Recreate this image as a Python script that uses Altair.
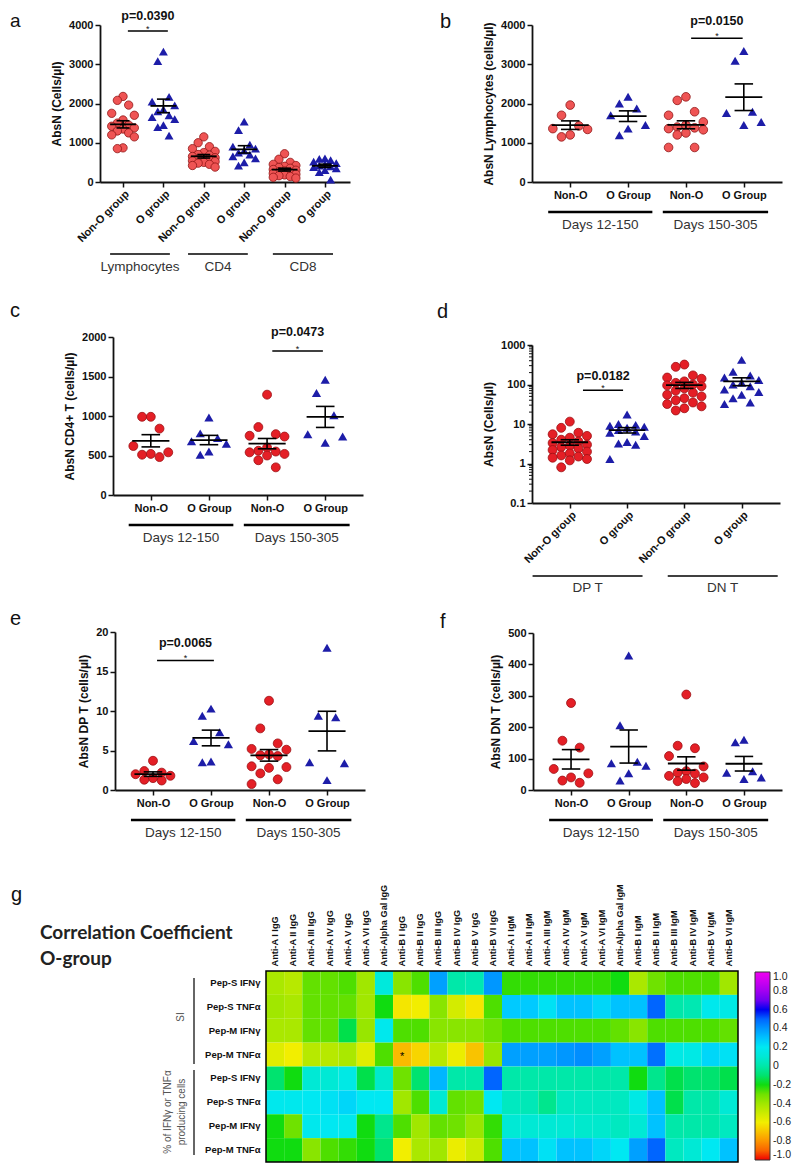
import altair as alt
import pandas as pd

FONT = "Liberation Sans, Arial, Helvetica, sans-serif"
NARROW = "Liberation Sans Narrow, Liberation Sans, Arial, sans-serif"
TFONT = "Lato, Open Sans, sans-serif"

RED_A = "#ef5454"
RED_A_EDGE = "#8f1616"
RED = "#e41f26"
RED_EDGE = "#9c1014"
BLUE = "#1d1da8"

W, H = 784, 1156

# ---------------- panel a ----------------
a_labels = ["Non-O group", "O group", "Non-O group", "O group", "Non-O group", "O group"]
a_groups = ["Lymphocytes", "CD4", "CD8"]
a_lymph_nonO = [2180, 2080, 1960, 1750, 1700, 1580, 1500, 1450, 1420, 1380, 1350, 1300, 1250, 1200, 1150, 870, 850]
a_lymph_O = [3320, 3080, 2170, 2050, 1950, 1850, 1800, 1700, 1650, 1600, 1450, 1400, 1180]
a_cd4_nonO = [1150, 1000, 900, 850, 780, 750, 700, 680, 650, 620, 600, 580, 560, 540, 520, 500, 480, 450, 420, 380]
a_cd4_O = [1540, 1320, 950, 900, 850, 800, 750, 700, 650, 600, 500, 420]
a_cd8_nonO = [720, 580, 500, 450, 420, 400, 370, 350, 320, 300, 280, 260, 240, 220, 200, 180, 160, 140, 120, 100]
a_cd8_O = [600, 590, 560, 520, 480, 450, 420, 400, 380, 350, 300, 250, 60]
a_p = "p=0.0390"

# ---------------- panels b, c, e, f ----------------
day_labels = ["Non-O", "O Group", "Non-O", "O Group"]
day_groups = ["Days 12-150", "Days 150-305"]

b_early_nonO = [1960, 1700, 1430, 1360, 1340, 1200, 1150]
b_early_O = [2170, 2000, 1870, 1700, 1450, 1360, 1190]
b_late_nonO = [2170, 2080, 1790, 1700, 1530, 1450, 1400, 1380, 1360, 1330, 1250, 1200, 880, 880]
b_late_O = [3340, 3090, 1790, 1760, 1530, 1450]
b_p = "p=0.0150"

c_early_nonO = [990, 990, 840, 620, 540, 520, 510, 480]
c_early_O = [980, 780, 720, 680, 650, 550, 510]
c_late_nonO = [1270, 860, 770, 750, 740, 600, 560, 550, 540, 520, 500, 440, 350]
c_late_O = [1460, 1290, 1010, 770, 740, 660]
c_p = "p=0.0473"

# ---------------- panel d (log) ----------------
d_labels = ["Non-O group", "O group", "Non-O group", "O group"]
d_groups = ["DP T", "DN T"]
d_dp_nonO = [11.5, 8, 6, 5.5, 5, 4.5, 4, 3.6, 3.3, 3, 2.8, 2.6, 2.4, 2.2, 2.0, 1.8, 1.6, 1.5, 1.4, 1.3, 1.2, 0.8]
d_dp_O = [17.5, 10, 9.5, 9, 8.5, 8, 7, 6.5, 6, 5, 3.5, 3.2, 3.0, 1.3]
d_dn_nonO = [320, 280, 170, 150, 140, 120, 110, 100, 95, 90, 80, 70, 62, 55, 50, 45, 40, 35, 32, 28, 25, 22]
d_dn_O = [420, 210, 170, 150, 130, 110, 100, 90, 75, 65, 55, 45, 35, 32]
d_p = "p=0.0182"
d_minor_ticks = [0.2, 0.3, 0.4, 0.5, 0.6, 0.7, 0.8, 0.9, 2, 3, 4, 5, 6, 7, 8, 9,
                 20, 30, 40, 50, 60, 70, 80, 90, 200, 300, 400, 500, 600, 700, 800, 900]

e_early_nonO = [3.7, 2.4, 2.2, 2.0, 1.8, 1.5, 1.3, 1.2]
e_early_O = [10.3, 9.4, 7.3, 6.2, 5.8, 3.6, 3.5]
e_late_nonO = [11.3, 7.8, 5.9, 5.2, 5.1, 4.5, 4.4, 4.3, 3.0, 2.9, 2.8, 2.1, 1.35, 0.75]
e_late_O = [18.0, 9.4, 9.2, 3.5, 3.4, 1.25]
e_p = "p=0.0065"

f_early_nonO = [277, 157, 135, 67, 53, 40, 30, 23]
f_early_O = [428, 206, 90, 85, 77, 53, 30]
f_late_nonO = [304, 141, 133, 108, 75, 60, 55, 52, 45, 40, 35, 28, 22]
f_late_O = [160, 152, 60, 55, 40, 35]

# ---------------- panel g (heatmap) ----------------
hm_cols = ["Anti-A I IgG", "Anti-A II IgG", "Anti-A III IgG", "Anti-A IV IgG", "Anti-A V IgG",
           "Anti-A VI IgG", "Anti-Alpha Gal  IgG", "Anti-B I IgG", "Anti-B II IgG", "Anti-B III IgG",
           "Anti-B IV IgG", "Anti-B V IgG", "Anti-B VI IgG", "Anti-A I IgM", "Anti-A II IgM",
           "Anti-A III IgM", "Anti-A IV IgM", "Anti-A V IgM", "Anti-A VI IgM", "Anti-Alpha Gal  IgM",
           "Anti-B I IgM", "Anti-B II IgM", "Anti-B III IgM", "Anti-B IV IgM", "Anti-B V IgM", "Anti-B VI IgM"]
hm_rows = ["Pep-S IFNγ", "Pep-S TNFα", "Pep-M IFNγ", "Pep-M TNFα"]
hm_blocks = ["SI", "% of IFNγ or TNFα", "producing cells"]
si_pepS_ifn = [-0.42, -0.45, -0.28, -0.28, -0.25, -0.40, 0.12, -0.35, -0.25, 0.38, 0.00, 0.02, 0.40,
               -0.22, -0.22, -0.22, -0.22, -0.22, -0.22, -0.20, -0.42, -0.30, -0.25, -0.25, -0.25, -0.40]
si_pepS_tnf = [-0.40, -0.42, -0.28, -0.28, -0.28, -0.40, -0.20, -0.62, -0.60, -0.35, -0.52, -0.62, -0.25,
               0.28, 0.28, 0.22, 0.30, 0.30, 0.25, 0.30, 0.30, 0.50, 0.00, 0.02, 0.18, 0.15]
si_pepM_ifn = [-0.42, -0.42, -0.28, -0.28, -0.15, -0.38, 0.18, -0.25, -0.25, -0.35, -0.35, -0.35, -0.30,
               -0.25, -0.25, -0.25, -0.25, -0.25, -0.25, -0.28, -0.35, -0.25, -0.25, -0.25, -0.25, -0.28]
si_pepM_tnf = [-0.55, -0.60, -0.45, -0.45, -0.42, -0.55, -0.25, -0.72, -0.66, -0.45, -0.58, -0.70, -0.38,
               0.38, 0.38, 0.38, 0.40, 0.42, 0.38, 0.30, 0.30, 0.48, 0.15, 0.15, 0.25, 0.22]
pc_pepS_ifn = [-0.10, -0.20, 0.10, 0.10, 0.15, -0.15, 0.08, -0.30, -0.10, 0.33, 0.00, 0.00, 0.50,
               0.00, 0.00, 0.00, 0.00, 0.00, 0.00, 0.00, -0.20, -0.05, -0.15, -0.10, -0.10, -0.15]
pc_pepS_tnf = [0.18, 0.18, 0.20, 0.22, 0.25, 0.20, 0.20, -0.40, -0.25, 0.10, -0.28, -0.30, 0.20,
               0.05, 0.03, -0.05, 0.05, 0.05, 0.05, 0.05, 0.15, 0.30, -0.15, 0.00, 0.00, 0.10]
pc_pepM_ifn = [-0.20, -0.30, 0.18, 0.20, 0.18, -0.20, -0.05, -0.25, -0.40, -0.28, -0.30, -0.38, -0.22,
               0.10, 0.10, 0.10, 0.10, 0.08, 0.08, 0.05, 0.10, 0.30, 0.00, 0.00, 0.00, 0.05]
pc_pepM_tnf = [-0.20, -0.20, -0.35, -0.25, -0.22, -0.20, -0.10, -0.60, -0.42, -0.40, -0.58, -0.50, -0.25,
               0.30, 0.30, 0.22, 0.30, 0.30, 0.25, 0.20, 0.38, 0.50, 0.05, 0.10, 0.20, 0.30]
hm_matrix = [si_pepS_ifn, si_pepS_tnf, si_pepM_ifn, si_pepM_tnf,
             pc_pepS_ifn, pc_pepS_tnf, pc_pepM_ifn, pc_pepM_tnf]
hm_sig_cell = ("Anti-B I IgG", "0|Pep-M TNFα")
cbar_values = [-1.0, -0.8, -0.6, -0.4, -0.2, 0.0, 0.2, 0.4, 0.6, 0.8, 1.0]
heading = ["Correlation Coefficient", "O-group"]


def ann(text, x, y, **kw):
    return alt.Chart(pd.DataFrame({"t": [text]})).mark_text(**kw).encode(
        x=alt.value(x), y=alt.value(y), text="t:N")


def dot_panel(series, labels, xdom, xr, ydom, yr, yvals, ytitle, rotate,
              spans, span_names, line_y, text_y, line_w, letter, letter_x, letter_y,
              sig=None, log=False, cfill=RED, cedge=RED_EDGE, csize=80, tsize=85,
              step=0.15, ylab_expr=None, minor=None, letter_size=20):
    rows = []
    for pos, (grp, vals) in enumerate(series):
        for v in vals:
            rows.append({"pos": pos, "grp": grp, "v": v})
    df = pd.DataFrame(rows)
    n = len(series)
    xs = alt.Scale(domain=xdom, range=xr, nice=False, zero=False)
    ys = alt.Scale(domain=ydom, range=yr, nice=False, zero=False, type="log" if log else "linear")
    lab_expr = "[" + ",".join("'%s'" % l for l in labels) + "][datum.value]"
    xoff = -(H - yr[0])
    if rotate:
        xaxis = alt.Axis(values=list(range(n)), labelExpr=lab_expr, title=None, labelAngle=-45, orient="bottom",
                         labelAlign="right", labelBaseline="top", labelPadding=1, tickSize=5, offset=xoff,
                         labelOverlap=False, labelFlush=False)
    else:
        xaxis = alt.Axis(values=list(range(n)), labelExpr=lab_expr, title=None, labelAngle=0, orient="bottom",
                         labelAlign="center", labelBaseline="top", labelPadding=2, tickSize=5, offset=xoff,
                         labelOverlap=False, labelFlush=False)
    ykw = dict(values=yvals, title=ytitle, tickSize=5, labelPadding=2, titlePadding=5, orient="left",
               offset=-xr[0], labelOverlap=False, labelFlush=False)
    if ylab_expr:
        ykw["labelExpr"] = ylab_expr
    else:
        ykw["format"] = "d"
    yaxis = alt.Axis(**ykw)

    def XQ(f):
        return alt.X(f, type="quantitative", scale=xs, axis=xaxis)

    def YQ(f):
        return alt.Y(f, type="quantitative", scale=ys, axis=yaxis)

    base = alt.Chart(df)
    jit = base.transform_window(
        rn="row_number()", groupby=["pos"], sort=[alt.SortField("v", order="descending")]
    ).transform_calculate(xj="datum.pos + [0,-1,1,-2,2][(datum.rn - 1) %% 5] * %s" % step)
    circles = jit.transform_filter("datum.grp == 'N'").mark_point(
        shape="circle", filled=True, fill=cfill, stroke=cedge, strokeWidth=0.8, size=csize, opacity=1
    ).encode(x=XQ("xj"), y=YQ("v"))
    tris = jit.transform_filter("datum.grp == 'O'").mark_point(
        shape="triangle-up", filled=True, fill=BLUE, strokeWidth=0, size=tsize, opacity=1
    ).encode(x=XQ("xj"), y=YQ("v"))

    stats = base.transform_aggregate(m="mean(v)", se="stderr(v)", groupby=["pos"]).transform_calculate(
        lo="datum.m - datum.se", hi="datum.m + datum.se",
        ml="datum.pos - 0.32", mr="datum.pos + 0.32",
        cl="datum.pos - 0.16", cr="datum.pos + 0.16")
    mean_r = stats.mark_rule(color="black", strokeWidth=1.8).encode(x=XQ("ml"), x2="mr:Q", y=YQ("m"))
    err_r = stats.mark_rule(color="black", strokeWidth=1.6).encode(x=XQ("pos"), y=YQ("lo"), y2="hi:Q")
    cap_hi = stats.mark_rule(color="black", strokeWidth=1.6).encode(x=XQ("cl"), x2="cr:Q", y=YQ("hi"))
    cap_lo = stats.mark_rule(color="black", strokeWidth=1.6).encode(x=XQ("cl"), x2="cr:Q", y=YQ("lo"))

    gdf = pd.DataFrame({"g1": [s[0] for s in spans], "g2": [s[1] for s in spans], "name": span_names})
    glines = alt.Chart(gdf).mark_rule(color="black", strokeWidth=line_w).encode(
        x=XQ("g1"), x2="g2:Q", y=alt.value(line_y))
    gtext = alt.Chart(gdf).transform_calculate(gm="(datum.g1 + datum.g2) / 2").mark_text(
        font=FONT, fontSize=13.5, color="#333333", baseline="middle"
    ).encode(x=XQ("gm"), y=alt.value(text_y), text="name:N")

    layers = [circles, tris, mean_r, err_r, cap_hi, cap_lo, glines, gtext]
    if minor:
        mdf = pd.DataFrame({"mv": minor})
        layers.append(alt.Chart(mdf).mark_rule(color="#111", strokeWidth=1).encode(
            x=alt.value(xr[0] - 3), x2=alt.value(xr[0]), y=YQ("mv")))
    if sig:
        x1, x2, yl, yt, lab = sig
        sdf = pd.DataFrame([{"s1": x1, "s2": x2, "sy": yl, "ty": yt, "lab": lab}])
        sb = alt.Chart(sdf).transform_calculate(sm="(datum.s1 + datum.s2) / 2")
        layers += [
            sb.mark_rule(color="black", strokeWidth=1.5).encode(x=XQ("s1"), x2="s2:Q", y=YQ("sy")),
            sb.mark_text(font=FONT, fontSize=12.5, fontWeight="bold", baseline="middle", color="#111").encode(
                x=XQ("sm"), y=YQ("ty"), text="lab:N"),
            sb.mark_text(font=FONT, fontSize=9, text="*", baseline="middle", color="#111", dy=-2).encode(
                x=XQ("sm"), y=YQ("sy")),
        ]
    layers.append(ann(letter, letter_x, letter_y, font=FONT, fontSize=letter_size, align="left",
                      baseline="alphabetic", color="#111"))
    return alt.layer(*layers)


DSPANS = [(-0.38, 1.42), (1.6, 3.42)]

panel_a = dot_panel(
    [("N", a_lymph_nonO), ("O", a_lymph_O), ("N", a_cd4_nonO), ("O", a_cd4_O), ("N", a_cd8_nonO), ("O", a_cd8_O)],
    a_labels, [-0.57, 5.62], [92, 342], [0, 4000], [174, 17], [0, 1000, 2000, 3000, 4000],
    "AbsN (Cells/µl)", True, [(-0.32, 1.16), (1.61, 3.09), (3.71, 5.2)], a_groups, 246, 259, 1.4,
    "a", 2, 19, sig=(0.12, 1.11, 3850, 4230, a_p), cfill=RED_A, cedge=RED_A_EDGE,
    csize=70, tsize=80, step=0.14, letter_size=19)

panel_b = dot_panel(
    [("N", b_early_nonO), ("O", b_early_O), ("N", b_late_nonO), ("O", b_late_O)],
    day_labels, [-0.66, 3.66], [524, 774], [0, 4000], [174, 17], [0, 1000, 2000, 3000, 4000],
    "AbsN Lymphocytes (cells/µl)", False, DSPANS, day_groups, 204, 217, 2.5, "b", 432, 20,
    sig=(2.09, 2.98, 3660, 4110, b_p), cfill=RED_A, cedge=RED_A_EDGE, csize=75, tsize=85)

panel_c = dot_panel(
    [("N", c_early_nonO), ("O", c_early_O), ("N", c_late_nonO), ("O", c_late_O)],
    day_labels, [-0.65, 3.65], [105, 355], [0, 2000], [487, 329], [0, 500, 1000, 1500, 2000],
    "AbsN CD4+ T (cells/µl)", False, DSPANS, day_groups, 517, 530, 2.5, "c", 2, 309,
    sig=(2.09, 2.96, 1823, 2060, c_p))

panel_d = dot_panel(
    [("N", d_dp_nonO), ("O", d_dp_O), ("N", d_dn_nonO), ("O", d_dn_O)],
    d_labels, [-0.66, 3.67], [524, 772], [0.1, 1000], [495, 337], [0.1, 1, 10, 100, 1000],
    "AbsN (Cells/µl)", True, [(-0.65, 1.27), (1.71, 3.63)], d_groups, 568, 580, 1.4, "d", 429, 310,
    sig=(0.23, 0.93, 72, 167, d_p), log=True, minor=d_minor_ticks,
    ylab_expr="datum.value < 1 ? '0.1' : format(datum.value, 'd')")

panel_e = dot_panel(
    [("N", e_early_nonO), ("O", e_early_O), ("N", e_late_nonO), ("O", e_late_O)],
    day_labels, [-0.655, 3.655], [107, 357], [0, 20], [782, 624], [0, 5, 10, 15, 20],
    "AbsN DP T (cells/µl)", False, DSPANS, day_groups, 812, 825, 2.5, "e", 2, 617,
    sig=(0.07, 1.05, 16.4, 18.6, e_p))

panel_f = dot_panel(
    [("N", f_early_nonO), ("O", f_early_O), ("N", f_late_nonO), ("O", f_late_O)],
    day_labels, [-0.66, 3.66], [525, 774], [0, 500], [782, 625], [0, 100, 200, 300, 400, 500],
    "AbsN DN T (cells/µl)", False, DSPANS, day_groups, 812, 825, 2.5, "f", 432, 620)

# ---------------- heatmap ----------------
HX = [258, 730]
HY = [963, 1154]
row_keys = []
recs = []
for bi in range(2):
    for ri, rname in enumerate(hm_rows):
        key = "%d|%s" % (bi, rname)
        row_keys.append(key)
        vals = hm_matrix[bi * 4 + ri]
        for ci, cname in enumerate(hm_cols):
            recs.append({"row": key, "col": cname, "r": vals[ci]})
hm_df = pd.DataFrame(recs)

hxs = alt.Scale(range=HX, paddingInner=0, paddingOuter=0)
hys = alt.Scale(range=HY, paddingInner=0, paddingOuter=0)
hxa = alt.Axis(orient="top", offset=-HY[0], title=None, labelAngle=270, labelAlign="left",
               labelBaseline="middle", labelFont=NARROW, labelFontSize=9.2,
               labelFontWeight="bold", ticks=False, domain=False, labelPadding=5, labelLimit=200,
               labelOverlap=False)
hya = alt.Axis(orient="left", offset=-HX[0], title=None, labelExpr="split(datum.label, '|')[1]",
               ticks=False, domain=False, labelPadding=6, labelFontSize=9.5,
               labelFontWeight="bold", labelFont=FONT, labelOverlap=False)
cscale = alt.Scale(domain=[-1, -0.6, -0.2, 0.2, 0.6, 1],
                   range=["#f00000", "#f2ee00", "#10dc10", "#00e8f2", "#0000f0", "#f000f0"])
legend = alt.Legend(title=None, orient="none", legendX=747, legendY=964, direction="vertical",
                    gradientLength=188, gradientThickness=15, values=cbar_values,
                    labelExpr="datum.value == 0 ? '0' : replace(format(datum.value, '.1f'), '\u2212', '-')",
                    labelFont=FONT, labelFontSize=10.5, labelFontWeight="normal", labelColor="#222",
                    labelOffset=3, labelOverlap=False, gradientStrokeColor="#333", gradientStrokeWidth=1,
                    padding=0)
heat_rect = alt.Chart(hm_df).mark_rect().encode(
    x=alt.X("col:N", sort=hm_cols, scale=hxs, axis=hxa),
    y=alt.Y("row:N", sort=row_keys, scale=hys, axis=hya),
    color=alt.Color("r:Q", scale=cscale, legend=legend))
star_df = pd.DataFrame([{"col": hm_sig_cell[0], "row": hm_sig_cell[1], "t": "*"}])
heat_star = alt.Chart(star_df).mark_text(fontSize=11, baseline="middle", color="black", dy=2).encode(
    x=alt.X("col:N", sort=hm_cols, scale=hxs, axis=hxa),
    y=alt.Y("row:N", sort=row_keys, scale=hys, axis=hya), text="t:N")
heat = alt.layer(heat_rect, heat_star)


def frame(x1, x2, y1, y2):
    return alt.Chart(pd.DataFrame({"z": [0]})).mark_rect(fill=None, stroke="black", strokeWidth=1.5).encode(
        x=alt.value(x1), x2=alt.value(x2), y=alt.value(y1), y2=alt.value(y2))


def vline(x, y1, y2):
    return alt.Chart(pd.DataFrame({"z": [0]})).mark_rule(color="#333", strokeWidth=1.5).encode(
        x=alt.value(x), y=alt.value(y1), y2=alt.value(y2))


heat_ann = [
    frame(HX[0], HX[1], HY[0], HY[1]),
    vline(186, 970, 1056), vline(186, 1062, 1147),
    ann(hm_blocks[0], 173, 1009, angle=270, font=FONT, fontSize=10, color="#555", baseline="middle"),
    ann(hm_blocks[1], 160, 1104, angle=270, font=FONT, fontSize=10, color="#555", baseline="middle"),
    ann(hm_blocks[2], 174, 1104, angle=270, font=FONT, fontSize=10, color="#555", baseline="middle"),
    ann(heading[0], 32, 925, font=TFONT, fontSize=19, fontWeight="bold", color="#222", align="left"),
    ann(heading[1], 32, 951, font=TFONT, fontSize=19, fontWeight="bold", color="#222", align="left"),
    ann("g", 3, 887, font=FONT, fontSize=20, color="#111", align="left"),
]

chart = alt.layer(
    panel_a, panel_b, panel_c, panel_d, panel_e, panel_f, heat, *heat_ann
).resolve_scale(x="independent", y="independent", color="independent").properties(
    width=W, height=H, autosize=alt.AutoSizeParams(type="none"), padding=0
).configure_view(stroke=None).configure_axis(
    labelFont=FONT, titleFont=FONT, labelFontSize=11, titleFontSize=12,
    labelFontWeight="bold", titleFontWeight="bold", labelColor="#111", titleColor="#111",
    domainColor="#111", tickColor="#111", domainWidth=1.8, tickWidth=1.5, grid=False
).configure_text(font=FONT)

chart.save("out.html", embed_options={"renderer": "svg", "actions": False})
